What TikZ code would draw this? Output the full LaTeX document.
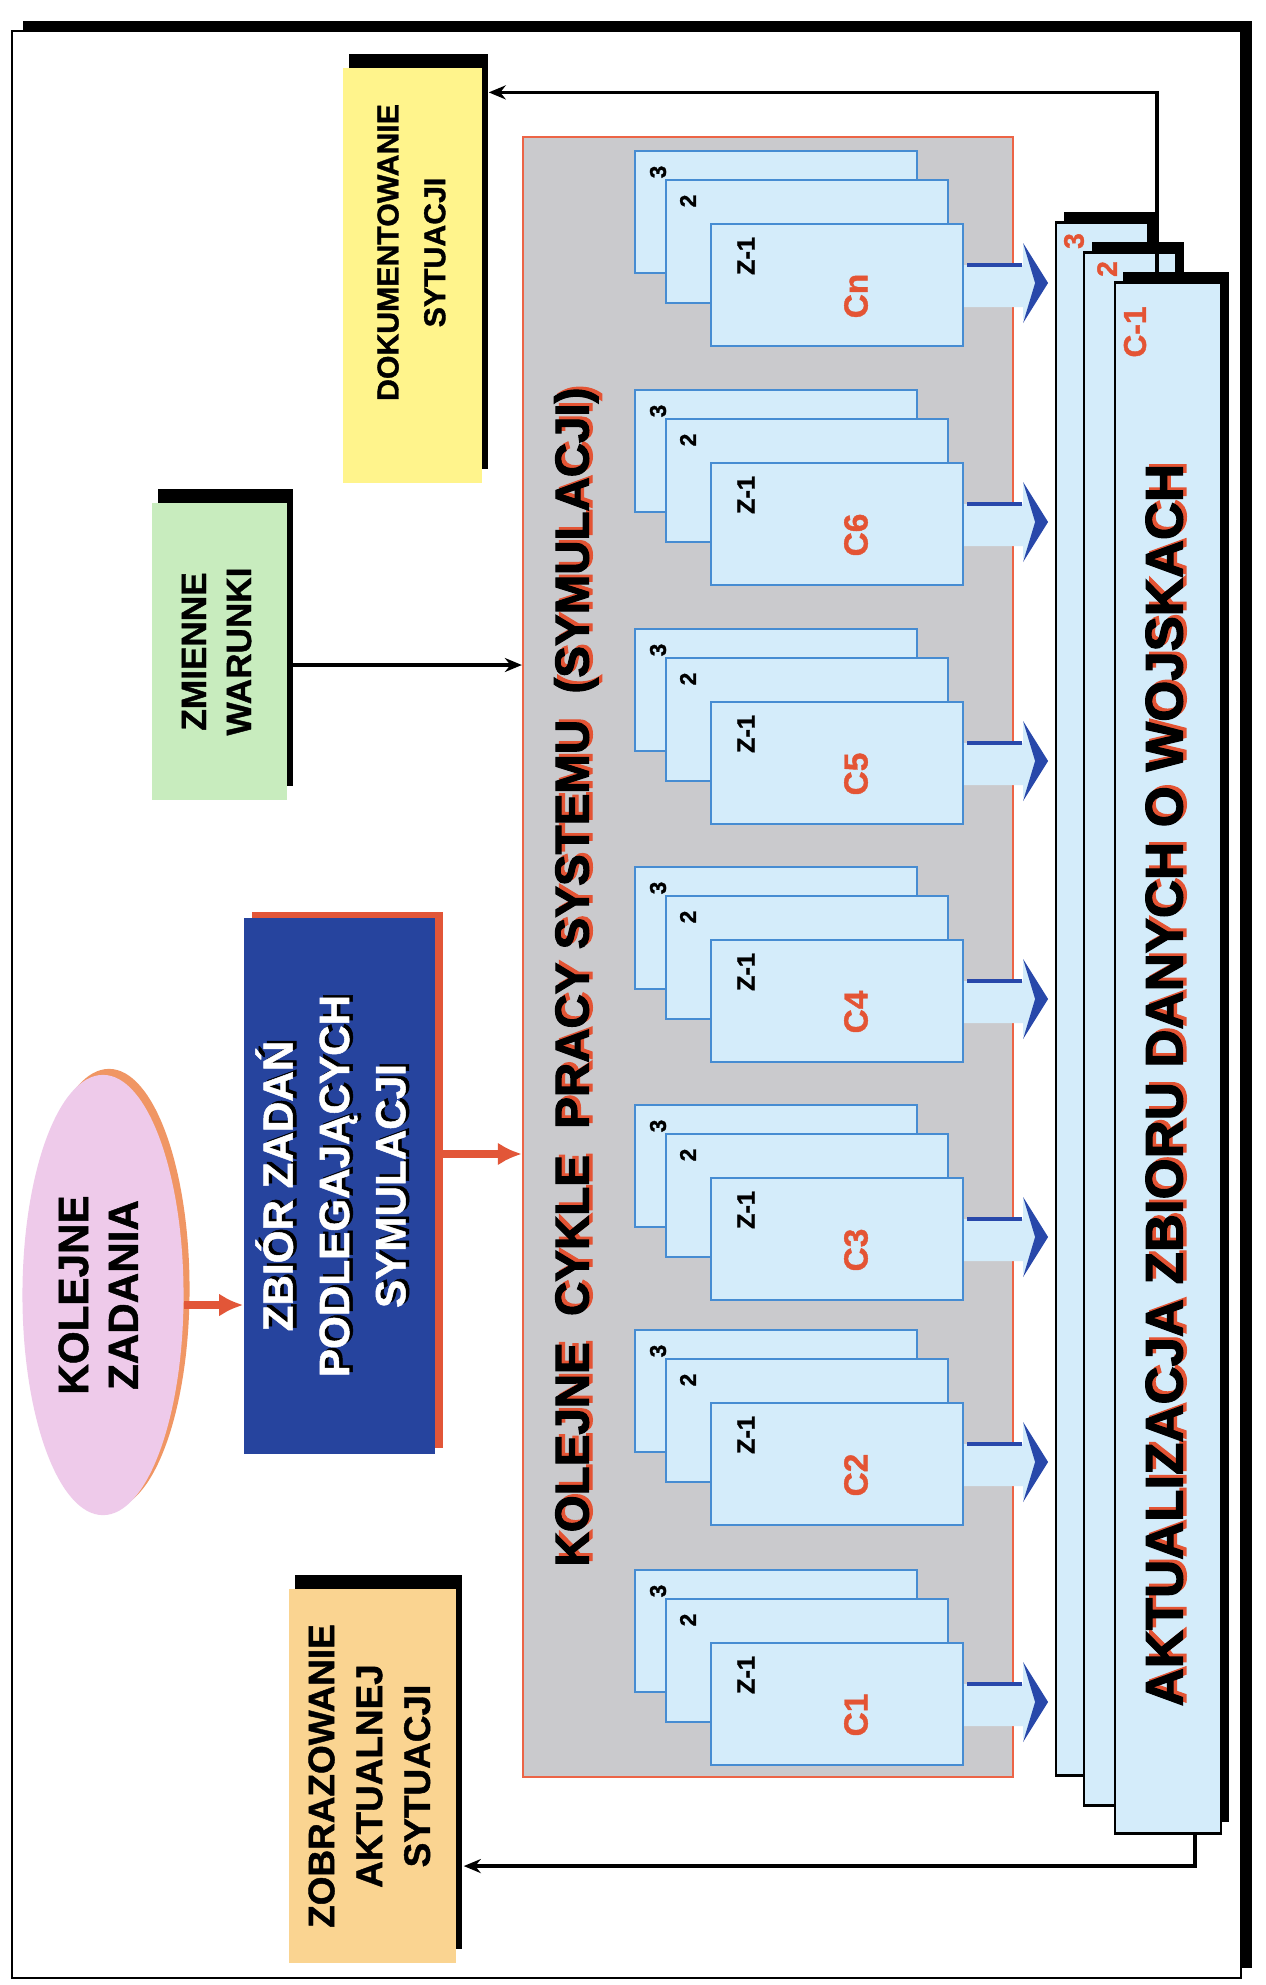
\documentclass[tikz,border=0pt]{standalone}
\usepackage{fontspec}
\setmainfont{Liberation Sans}[BoldFeatures={FakeBold=1.2}]
\newfontfamily\heavyfont{Liberation Sans}[BoldFeatures={FakeBold=2.2}]
\usepackage{graphicx}
\usetikzlibrary{shadows,shapes.geometric,arrows.meta}

\definecolor{dokyellow}{RGB}{255,244,140}
\definecolor{zmgreen}{RGB}{200,236,190}
\definecolor{kzpink}{RGB}{238,202,234}
\definecolor{kzrim}{RGB}{240,150,100}
\definecolor{zbblue}{RGB}{38,68,158}
\definecolor{zbred}{RGB}{226,86,56}
\definecolor{zobrorange}{RGB}{250,212,145}
\definecolor{kpsgray}{RGB}{202,202,205}
\definecolor{kpsline}{RGB}{236,100,70}
\definecolor{sheetblue}{RGB}{212,236,250}
\definecolor{sheetline}{RGB}{70,140,210}
\definecolor{arrblue}{RGB}{40,72,170}
\definecolor{labred}{RGB}{228,84,52}

\newcommand\vtext[3]{\rotatebox{90}{\fontsize{#1}{#2}\selectfont\begin{tabular}{@{}c@{}}#3\end{tabular}}}
\newcommand\redsh[1]{\leavevmode\rlap{\kern0.8pt\raisebox{-1pt}{\color{labred}#1}}#1}
\newcommand\blksh[1]{\leavevmode\rlap{\kern0.7pt\raisebox{-1pt}{\color{black}#1}}#1}

\begin{document}
\begin{tikzpicture}[x=0.01cm,y=-0.01cm,font=\bfseries,
    blkshadow/.style={drop shadow={shadow xshift=0.06cm,shadow yshift=0.14cm,fill=black,opacity=1}},
    sheet/.style={draw=sheetline,line width=0.02cm,fill=sheetblue,inner sep=0,minimum width=2.82cm,minimum height=1.22cm},
    aktsheet/.style={draw=black,line width=0.025cm,fill=sheetblue,inner sep=0,minimum width=0.92cm,minimum height=15.52cm,
      drop shadow={shadow xshift=0.08cm,shadow yshift=0.11cm,fill=black,opacity=1}},
    numlbl/.style={rotate=90,inner sep=0,font=\fontsize{6.5}{8}\selectfont\bfseries},
    conn/.style={draw=black,line width=0.035cm,-{Stealth[length=0.17cm,width=0.14cm]}},
    redarr/.style={draw=zbred,line width=0.08cm,-{Latex[length=0.24cm,width=0.23cm]}}]
  \useasboundingbox[fill=white] (0,0) rectangle (1265,1985);

  % page frame
  \draw[line width=0.02cm,fill=white,drop shadow={shadow xshift=0.11cm,shadow yshift=0.1cm,fill=black,opacity=1}]
    (12,31) rectangle (1241,1978);

  % boxes on the left
  \node[fill=dokyellow,blkshadow,inner sep=0,minimum width=1.39cm,minimum height=4.15cm] (dok) at (412.5,275.5)
    {\rotatebox{90}{\hspace{0.46cm}\fontsize{8.6}{13.3}\selectfont\begin{tabular}{@{}c@{}}DOKUMENTOWANIE\\SYTUACJI\end{tabular}}};
  \node[fill=zmgreen,blkshadow,inner sep=0,minimum width=1.35cm,minimum height=2.97cm] (zm) at (219.5,651.5)
    {\vtext{10}{12.8}{ZMIENNE\\WARUNKI}};
  \node[ellipse,fill=kzpink,inner sep=0,minimum width=1.61cm,minimum height=4.4cm,
    drop shadow={shadow xshift=0.06cm,shadow yshift=0.06cm,fill=kzrim,opacity=1}] (kz) at (103,1295)
    {\vtext{12}{14.2}{KOLEJNE\\ZADANIA}};
  \node[fill=zbblue,text=white,inner sep=0,minimum width=1.91cm,minimum height=5.36cm,
    drop shadow={shadow xshift=0.08cm,shadow yshift=0.06cm,fill=zbred,opacity=1}] (zb) at (339.5,1186)
    {\rotatebox{90}{\fontsize{12}{16}\selectfont\blksh{\begin{tabular}{@{}c@{}}ZBIÓR ZADAŃ\\PODLEGAJĄCYCH\\SYMULACJI\end{tabular}}}};
  \node[fill=zobrorange,blkshadow,inner sep=0,minimum width=1.67cm,minimum height=3.74cm] (zobr) at (372.5,1776)
    {\vtext{10.5}{13.6}{ZOBRAZOWANIE\\AKTUALNEJ\\SYTUACJI}};

  % simulation cycles
  \node[draw=kpsline,line width=0.02cm,fill=kpsgray,inner sep=0,minimum width=4.9cm,minimum height=16.4cm] (kps) at (768,957) {};
  \node[rotate=90,inner sep=0,font=\heavyfont\fontsize{13.5}{16}\selectfont\bfseries] (kpstxt) at (578,977)
    {\redsh{KOLEJNE\ \ CYKLE\ \ PRACY SYSTEMU\ \ (SYMULACJI)}};

  \foreach \lab/\ty [count=\n] in {Cn/224,C6/463,C5/702,C4/940,C3/1178,C2/1403,C1/1643}{
    \node[sheet] (cycC\n) at (776,\ty-12) {};
    \node[sheet] (cycB\n) at (807,\ty+17.5) {};
    \node[sheet,minimum width=2.52cm] (cyc\n) at (837,\ty+61) {};
    \node[numlbl] (nc\n) at (658,\ty-52) {3};
    \node[numlbl] (nb\n) at (688,\ty-23) {2};
    \node[numlbl,font=\fontsize{7.2}{9}\selectfont\bfseries] (nz\n) at (746,\ty+32) {Z-1};
    \node[numlbl,text=labred,font=\fontsize{9.5}{11}\selectfont\bfseries] (nl\n) at (856,\ty+72) {\lab};
    \fill[sheetblue] (cyc\n.east) ++(0,-20) -- ++(59,0) -- ++(0,-21) -- ++(24,38) -- ++(-24,38) -- ++(0,-13) -- ++(-59,0) -- cycle;
    \draw[arrblue,line width=0.04cm] (cyc\n.east) ++(3,-20) -- ++(55,0);
    \fill[arrblue] (cyc\n.east) ++(59,-42) -- ++(25,40) -- ++(-25,40) -- ++(12,-40) -- cycle;
  }

  % data store
  \node[aktsheet] (aktC) at (1102,999) {};
  \node[aktsheet] (aktB) at (1130,1029) {};
  \node[aktsheet,minimum width=1.06cm,minimum height=15.5cm] (akt) at (1168,1058) {};
  \node[numlbl,text=labred,font=\fontsize{8}{9}\selectfont\bfseries] (akt3) at (1074,241) {3};
  \node[numlbl,text=labred,font=\fontsize{8}{9}\selectfont\bfseries] (akt2) at (1107,269) {2};
  \node[numlbl,text=labred,font=\fontsize{9}{10}\selectfont\bfseries] (akt1) at (1135,332) {C-1};
  \node[rotate=90,inner sep=0,font=\heavyfont\fontsize{15}{18}\selectfont\bfseries] (akttxt) at (1166,1085)
    {\redsh{AKTUALIZACJA ZBIORU DANYCH O WOJSKACH}};

  % connectors
  \coordinate (kzout) at ([yshift=-0.1cm]kz.east);
  \coordinate (zbout) at ([yshift=0.32cm]zb.east);
  \coordinate (zmout) at ([yshift=-0.135cm]zm.east);
  \coordinate (aktin) at ([xshift=-0.11cm]akt.north);
  \coordinate (aktout) at ([xshift=0.27cm]akt.south);
  \draw[redarr] (kzout) -- (kzout -| zb.west);
  \draw[redarr] (zbout) -- (zbout -| kps.west);
  \draw[conn,line width=0.04cm] (zmout) -- (zmout -| kps.west);
  \draw[conn,shorten >=0.06cm] (aktin) |- ([yshift=1.83cm]dok.east);
  \draw[conn,line width=0.045cm,shorten >=0.07cm] (aktout) |- ([yshift=-0.9cm]zobr.east);
\end{tikzpicture}
\end{document}
